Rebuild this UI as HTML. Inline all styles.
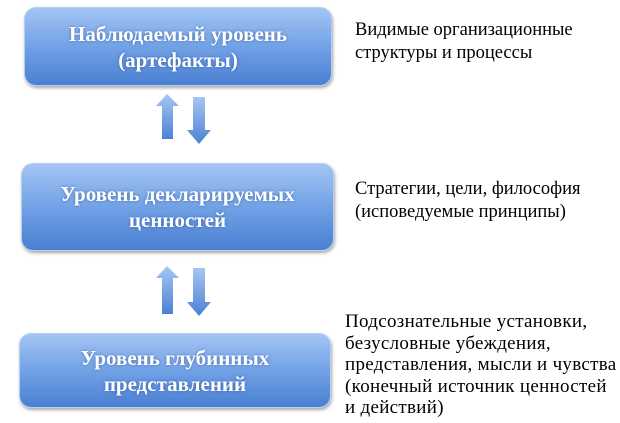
<!DOCTYPE html>
<html><head><meta charset="utf-8"><style>
body{margin:0;width:620px;height:423px;background:#fff;position:relative;overflow:hidden;font-family:"Liberation Serif",serif}
.b{position:absolute;border-radius:12px;background:linear-gradient(#a3c5f4,#72a2e6 50%,#4a80d2);box-shadow:1px 2px 3px rgba(0,0,0,.35);color:#fff;font-weight:bold;font-size:21px;line-height:26px;text-align:center;display:flex;align-items:center;justify-content:center;text-shadow:0 0 3px rgba(40,70,140,.6);border:1px solid #b5cdf0;box-sizing:border-box}
.t{position:absolute;font-size:18.5px;line-height:23px;color:#000}
svg{position:absolute;left:0;top:0}
</style></head><body>
<div class="b" style="left:24px;top:7px;width:308px;height:79px">Наблюдаемый уровень<br>(артефакты)</div>
<div class="b" style="left:21px;top:163px;width:313px;height:88px">Уровень декларируемых<br>ценностей</div>
<div class="b" style="left:19px;top:333px;width:312px;height:75px">Уровень глубинных<br>представлений</div>
<svg width="620" height="423">
<defs><linearGradient id="g" x1="0" y1="0" x2="0" y2="1"><stop offset="0" stop-color="#a7c6f2"/><stop offset="1" stop-color="#4a82d4"/></linearGradient></defs>
<g fill="url(#g)">
<path d="M167,94 L179,106 L173,106 L173,139 L162,139 L162,106 L156,106 Z"/>
<path d="M193,97 L205,97 L205,130 L211,130 L199,144 L187,130 L193,130 Z"/>
<path d="M167,266 L179,278 L173,278 L173,314 L162,314 L162,278 L156,278 Z"/>
<path d="M193,268 L205,268 L205,302 L211,302 L199,316 L187,302 L193,302 Z"/>
</g></svg>
<div class="t" style="left:355px;top:19px">Видимые организационные<br>структуры и процессы</div>
<div class="t" style="left:355px;top:178px">Стратегии, цели, философия<br>(исповедуемые принципы)</div>
<div class="t" style="left:345px;top:311px;font-size:19px;line-height:21.5px;letter-spacing:0.3px">Подсознательные установки,<br>безусловные убеждения,<br>представления, мысли и чувства<br>(конечный источник ценностей<br>и действий)</div>
</body></html>
